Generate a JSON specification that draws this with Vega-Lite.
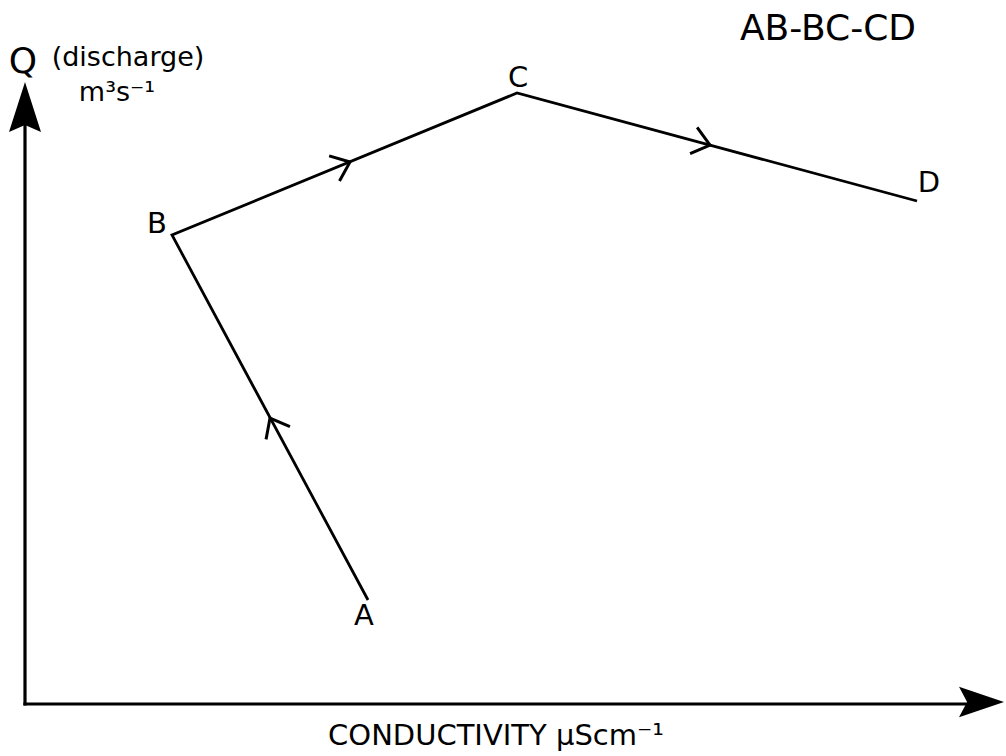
{
  "$schema": "https://vega.github.io/schema/vega-lite/v6.json",
  "width": 1006,
  "height": 756,
  "autosize": {"type": "fit", "contains": "padding"},
  "padding": 0,
  "background": "white",
  "config": {
    "view": {"stroke": null},
    "text": {"font": "DejaVu Sans", "color": "black"}
  },
  "datasets": {
    "hysteresis": [
      {"step": 1, "point": "A", "conductivity": 34.3, "discharge": 10.4},
      {"step": 2, "point": "B", "conductivity": 14.7, "discharge": 46.9},
      {"step": 3, "point": "C", "conductivity": 49.2, "discharge": 61.1},
      {"step": 4, "point": "D", "conductivity": 89.2, "discharge": 50.3}
    ],
    "direction": [
      {"segment": "AB", "conductivity": 24.5, "discharge": 28.6},
      {"segment": "BC", "conductivity": 32.5, "discharge": 54.2},
      {"segment": "CD", "conductivity": 68.5, "discharge": 55.9}
    ],
    "frame": [
      {"axis": "discharge", "conductivity": 0, "discharge": 0},
      {"axis": "discharge", "conductivity": 0, "discharge": 58},
      {"axis": "conductivity", "conductivity": 0, "discharge": 0},
      {"axis": "conductivity", "conductivity": 94.3, "discharge": 0}
    ],
    "heads": [
      {"axis": "discharge", "conductivity": 0, "discharge": 62.2},
      {"axis": "conductivity", "conductivity": 97.9, "discharge": 0.2}
    ],
    "labels": [
      {"text": "A", "conductivity": 33.9, "discharge": 7.9},
      {"text": "B", "conductivity": 13.2, "discharge": 47.1},
      {"text": "C", "conductivity": 49.3, "discharge": 61.7},
      {"text": "D", "conductivity": 90.4, "discharge": 51.2},
      {"text": "CONDUCTIVITY µScm⁻¹", "conductivity": 47.1, "discharge": -4.1}
    ],
    "units": [
      {"text": "(discharge)", "conductivity": 10.3, "discharge": 63.8},
      {"text": "m³s⁻¹", "conductivity": 9.2, "discharge": 60.3}
    ],
    "headings": [
      {"text": "Q", "conductivity": -0.2, "discharge": 63.1},
      {"text": "AB-BC-CD", "conductivity": 80.3, "discharge": 66.4}
    ]
  },
  "encoding": {
    "x": {
      "field": "conductivity",
      "type": "quantitative",
      "scale": {"domain": [-2.5, 98.1], "nice": false, "zero": false},
      "axis": null
    },
    "y": {
      "field": "discharge",
      "type": "quantitative",
      "scale": {"domain": [-5.2, 70.4], "nice": false, "zero": false},
      "axis": null
    }
  },
  "layer": [
    {
      "data": {"name": "frame"},
      "mark": {"type": "line", "color": "black", "strokeWidth": 3.2, "strokeCap": "square"},
      "encoding": {"detail": {"field": "axis"}}
    },
    {
      "data": {"name": "heads"},
      "transform": [{"filter": "datum.axis === 'discharge'"}],
      "mark": {
        "type": "point",
        "shape": "M0,0 L0.32,1 L0,0.86 L-0.32,1 Z",
        "size": 10000,
        "filled": true,
        "color": "black",
        "opacity": 1
      }
    },
    {
      "data": {"name": "heads"},
      "transform": [{"filter": "datum.axis === 'conductivity'"}],
      "mark": {
        "type": "point",
        "shape": "M0,0 L0.34,1 L0,0.82 L-0.34,1 Z",
        "size": 8100,
        "angle": 90,
        "filled": true,
        "color": "black",
        "opacity": 1
      }
    },
    {
      "data": {"name": "hysteresis"},
      "mark": {"type": "line", "color": "black", "strokeWidth": 2.8, "strokeJoin": "miter"},
      "encoding": {"order": {"field": "step"}}
    },
    {
      "data": {"name": "direction"},
      "transform": [{"filter": "datum.segment === 'AB'"}],
      "mark": {"type": "point", "shape": "M-1,-0.8 L0,0 L-1,0.8", "size": 1150, "angle": 241.8, "filled": false, "color": "black", "strokeWidth": 3, "opacity": 1}
    },
    {
      "data": {"name": "direction"},
      "transform": [{"filter": "datum.segment === 'BC'"}],
      "mark": {"type": "point", "shape": "M-1,-0.8 L0,0 L-1,0.8", "size": 1150, "angle": 337.6, "filled": false, "color": "black", "strokeWidth": 3, "opacity": 1}
    },
    {
      "data": {"name": "direction"},
      "transform": [{"filter": "datum.segment === 'CD'"}],
      "mark": {"type": "point", "shape": "M-1,-0.8 L0,0 L-1,0.8", "size": 1150, "angle": 15.1, "filled": false, "color": "black", "strokeWidth": 3, "opacity": 1}
    },
    {
      "data": {"name": "labels"},
      "mark": {"type": "text", "fontSize": 29, "align": "center", "baseline": "alphabetic"},
      "encoding": {"text": {"field": "text"}}
    },
    {
      "data": {"name": "units"},
      "mark": {"type": "text", "fontSize": 27, "align": "center", "baseline": "alphabetic"},
      "encoding": {"text": {"field": "text"}}
    },
    {
      "data": {"name": "headings"},
      "mark": {"type": "text", "fontSize": 36, "align": "center", "baseline": "alphabetic"},
      "encoding": {"text": {"field": "text"}}
    }
  ]
}
